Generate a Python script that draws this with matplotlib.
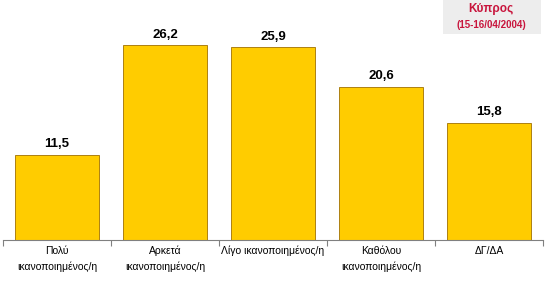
import matplotlib
matplotlib.use("Agg")
import matplotlib.pyplot as plt
from matplotlib.patches import Rectangle

categories = ["Πολύ\nικανοποιημένος/η", "Αρκετά\nικανοποιημένος/η",
              "Λίγο ικανοποιημένος/η", "Καθόλου\nικανοποιημένος/η", "ΔΓ/ΔΑ"]
values = [11.5, 26.2, 25.9, 20.6, 15.8]
value_labels = ["11,5", "26,2", "25,9", "20,6", "15,8"]
title = "Κύπρος"
subtitle = "(15-16/04/2004)"

plt.rcParams['font.family'] = ['Liberation Sans', 'DejaVu Sans']

fig = plt.figure(figsize=(5.5, 2.83), dpi=100)
ax = fig.add_axes([3/550, 43/283, 540/550, 223/283])
x = list(range(len(values)))
ax.bar(x, values, width=0.77, color="#FFCC00", edgecolor="#A07000", linewidth=0.6)
ax.set_xlim(-0.5, len(values) - 0.5)
ax.set_ylim(0, 30)
for xi, v, lab in zip(x, values, value_labels):
    ax.text(xi, v + 0.6, lab, ha="center", va="bottom", fontsize=9.5, fontweight="bold")

for s in ["top", "right", "left"]:
    ax.spines[s].set_visible(False)
ax.spines["bottom"].set_color("#808080")
ax.set_yticks([])
ax.set_xticks([i - 0.5 for i in range(len(values) + 1)], minor=False)
ax.set_xticklabels([])
ax.tick_params(axis="x", length=4, color="#808080", direction="out")
for xi, c in zip(x, categories):
    ax.text(xi, -0.8, c, ha="center", va="top", fontsize=7.5, linespacing=1.65,
            transform=ax.transData)

fig.patches.append(Rectangle((443/550, 1 - 34/283), 98/550, 34/283,
                             transform=fig.transFigure, facecolor="#EDEDED",
                             edgecolor="none", zorder=0))
fig.text(491/550, 1 - 9/283, title, ha="center", va="center", fontsize=8.5,
         fontweight="bold", color="#C8143C")
fig.text(491/550, 1 - 25/283, subtitle, ha="center", va="center", fontsize=7,
         fontweight="bold", color="#C8143C")

fig.savefig("out.png", dpi=100)
